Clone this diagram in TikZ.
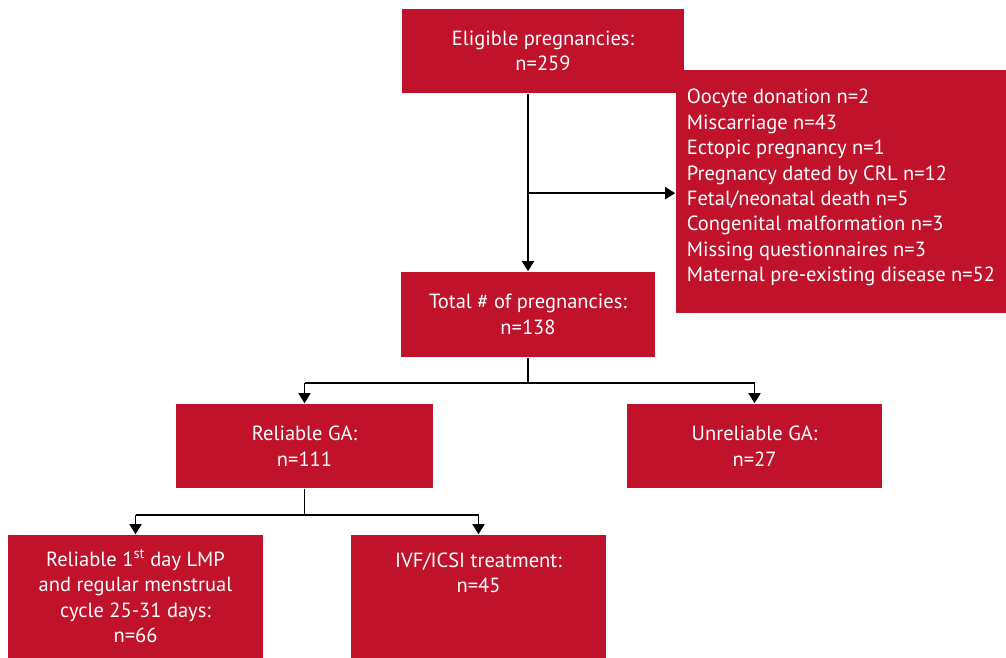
\documentclass[tikz,border=0pt]{standalone}
\usepackage{fontspec}
\setmainfont{PT Sans}
\usetikzlibrary{arrows.meta,positioning,calc}

\definecolor{boxred}{RGB}{192,18,43}

\begin{document}
\begin{tikzpicture}[x=1pt,y=-1pt,thick,line width=1.6pt,-{Triangle[width=12pt,length=10pt]}]
    \tikzstyle{box}=[rectangle, fill=boxred, text=white, align=center, inner sep=0pt,
        font=\fontsize{20.5}{25.4}\selectfont]
    \tikzstyle{line}=[-]

    \useasboundingbox (0,0) rectangle (1006,658);

    \node[box, minimum width=282pt, minimum height=84pt] (elig) at (543,51)
        {Eligible pregnancies:\\n=259};
    \node[box, minimum width=330pt, minimum height=243pt, align=left, text depth=12pt] (excl) at (841,191.5)
        {Oocyte donation n=2\\
         Miscarriage n=43\\
         Ectopic pregnancy n=1\\
         Pregnancy dated by CRL n=12\\
         Fetal/neonatal death n=5\\
         Congenital malformation n=3\\
         Missing questionnaires n=3\\
         Maternal pre-existing disease n=52};
    \node[box, minimum width=254pt, minimum height=85pt] (total) at (528,314.5)
        {Total \# of pregnancies:\\n=138};
    \node[box, minimum width=257pt, minimum height=84pt] (relga) at (304.5,446)
        {Reliable GA:\\n=111};
    \node[box, minimum width=255pt, minimum height=84pt] (unrelga) at (754.5,446)
        {Unreliable GA:\\n=27};
    \node[box, minimum width=255pt, minimum height=123pt] (lmp) at (135.5,596.5)
        {Reliable 1\textsuperscript{st} day LMP\\and regular menstrual\\cycle 25-31 days:\\n=66};
    \node[box, minimum width=255pt, minimum height=123pt, text depth=48pt] (ivf) at (478.5,596.5)
        {IVF/ICSI treatment:\\n=45};

    % exclusions
    \coordinate (split) at ($(elig.south -| total.north)!0.56!(total.north)$);
    \draw (elig.south -| total.north) -- (total.north);
    \draw (split) -- (split -| excl.west);

    % first split
    \coordinate (fork1) at (528,383);
    \draw[line] (total.south) -- (fork1);
    \draw[line] (fork1 -| relga.north) -- (fork1 -| unrelga.north);
    \draw (fork1 -| relga.north) -- (relga.north);
    \draw (fork1 -| unrelga.north) -- (unrelga.north);

    % second split
    \coordinate (fork2) at (304.5,515);
    \draw[line] (relga.south) -- (fork2);
    \draw[line] (fork2 -| lmp.north) -- (fork2 -| ivf.north);
    \draw (fork2 -| lmp.north) -- (lmp.north);
    \draw (fork2 -| ivf.north) -- (ivf.north);
\end{tikzpicture}
\end{document}
